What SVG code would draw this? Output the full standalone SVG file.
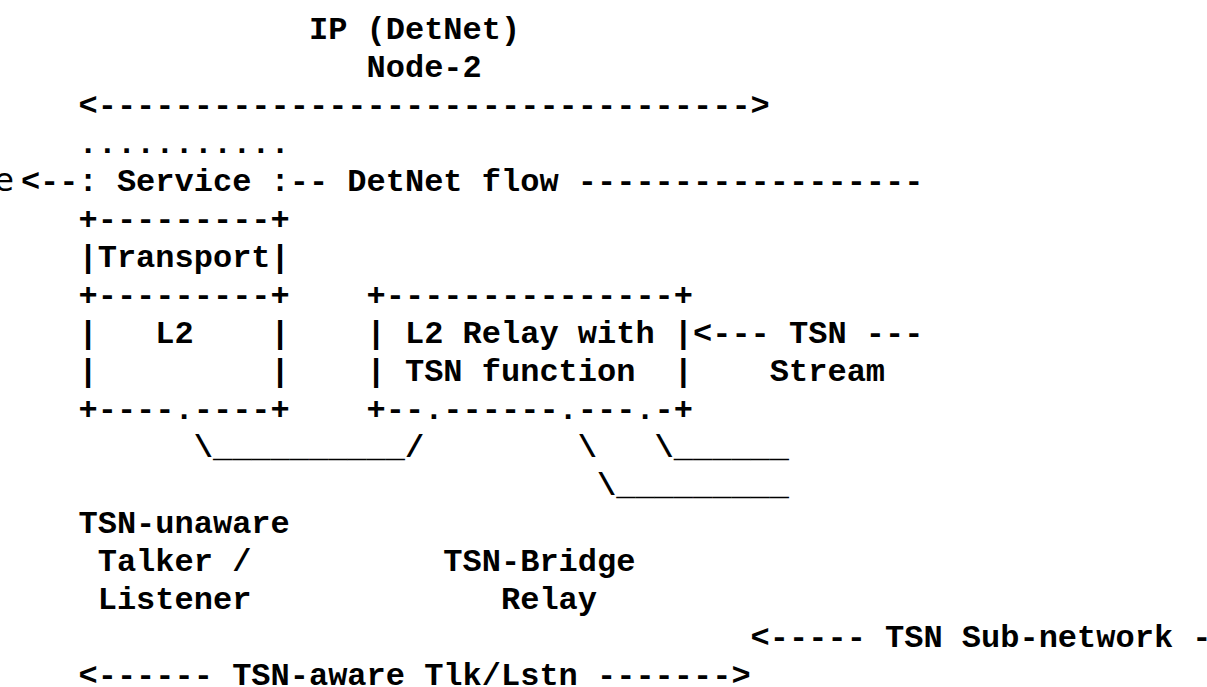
<svg xmlns="http://www.w3.org/2000/svg" width="1207" height="687" viewBox="0 0 1207 687" xml:space="preserve">
<style>
  .t { font-family: "Liberation Mono", "DejaVu Sans Mono", monospace; font-size: 32px; font-weight: bold; fill: #000; white-space: pre; }
  .e { font-family: "DejaVu Sans", sans-serif; font-size: 32px; font-weight: normal; fill: #000; }
</style>
<rect x="0" y="0" width="1207" height="687" fill="#ffffff"/>
<g id="ip-node">
  <text class="t" x="78.5" y="39" xml:space="preserve">            IP (DetNet)</text>
  <text class="t" x="78.5" y="77" xml:space="preserve">               Node-2</text>
</g>
<g id="connectors">
  <text class="t" x="78.5" y="115" xml:space="preserve">&lt;----------------------------------&gt;</text>
  <text class="t" x="20.9" y="191" xml:space="preserve">&lt;--: Service :-- DetNet flow ------------------</text>
  <text class="t" x="78.5" y="457" xml:space="preserve">      \__________/        \   \______</text>
  <text class="t" x="78.5" y="495" xml:space="preserve">                           \_________</text>
  <text class="t" x="78.5" y="647" xml:space="preserve">                                   &lt;----- TSN Sub-network -</text>
  <text class="t" x="78.5" y="685" xml:space="preserve">&lt;------ TSN-aware Tlk/Lstn -------&gt;</text>
</g>
<text class="e" x="14" y="191" text-anchor="end">e</text>
<g id="service">
  <text class="t" x="78.5" y="153" xml:space="preserve">...........</text>
</g>
<g id="boxes">
  <text class="t" x="78.5" y="229" xml:space="preserve">+---------+</text>
  <text class="t" x="78.5" y="267" xml:space="preserve">|Transport|</text>
  <text class="t" x="78.5" y="305" xml:space="preserve">+---------+    +---------------+</text>
  <text class="t" x="78.5" y="343" xml:space="preserve">|   L2    |    | L2 Relay with |&lt;--- TSN ---</text>
  <text class="t" x="78.5" y="381" xml:space="preserve">|         |    | TSN function  |    Stream</text>
  <text class="t" x="78.5" y="419" xml:space="preserve">+----.----+    +--.------.---.-+</text>
</g>
<g id="labels">
  <text class="t" x="78.5" y="533" xml:space="preserve">TSN-unaware</text>
  <text class="t" x="78.5" y="571" xml:space="preserve"> Talker /          TSN-Bridge</text>
  <text class="t" x="78.5" y="609" xml:space="preserve"> Listener             Relay</text>
</g>
</svg>
